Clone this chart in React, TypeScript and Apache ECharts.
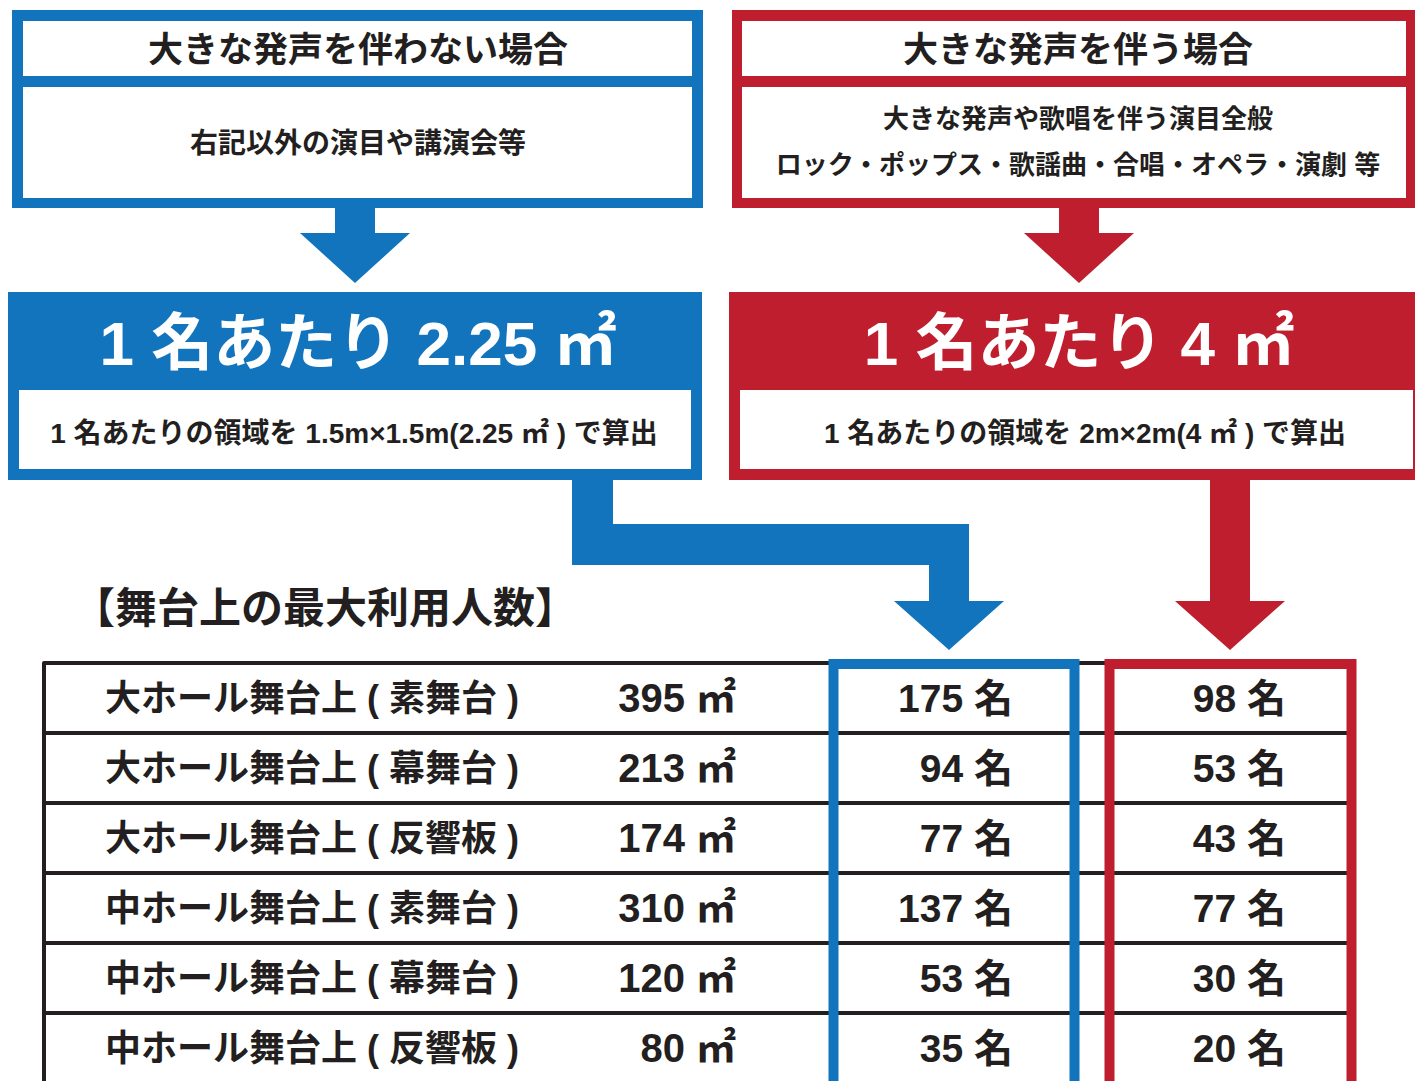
import React, { useEffect, useRef } from "react";
import * as echarts from "echarts";

const rowLabels = [
  "大ホール舞台上 ( 素舞台 )",
  "大ホール舞台上 ( 幕舞台 )",
  "大ホール舞台上 ( 反響板 )",
  "中ホール舞台上 ( 素舞台 )",
  "中ホール舞台上 ( 幕舞台 )",
  "中ホール舞台上 ( 反響板 )",
];
const stageAreas = [395, 213, 174, 310, 120, 80];
const capacityQuiet = [175, 94, 77, 137, 53, 35];
const capacityLoud = [98, 53, 43, 77, 30, 20];

const quietTitle = "大きな発声を伴わない場合";
const quietBody = ["右記以外の演目や講演会等"];
const loudTitle = "大きな発声を伴う場合";
const loudBody = ["大きな発声や歌唱を伴う演目全般", "ロック・ポップス・歌謡曲・合唱・オペラ・演劇 等"];
const quietHeadline = "1 名あたり 2.25 ㎡";
const quietNote = "1 名あたりの領域を 1.5m×1.5m(2.25 ㎡ ) で算出";
const loudHeadline = "1 名あたり 4 ㎡";
const loudNote = "1 名あたりの領域を 2m×2m(4 ㎡ ) で算出";
const sectionTitle = "【舞台上の最大利用人数】";

const BLUE = "#1174BC";
const RED = "#BE1E2D";
const INK = "#231F20";
const FONT = "'Liberation Sans', 'Noto Sans CJK JP', sans-serif";

function txt(text: string, x: number, y: number, size: number, opts: any = {}) {
  return {
    type: "text",
    z: 120,
    style: {
      text,
      x,
      y,
      align: opts.align || "center",
      verticalAlign: "middle",
      fontSize: size,
      fontWeight: opts.weight || "bold",
      fontFamily: FONT,
      fill: opts.fill || INK,
    },
  };
}

function rect(x: number, y: number, w: number, h: number, fill: string, z = 10) {
  return { type: "rect", z, shape: { x, y, width: w, height: h }, style: { fill } };
}

function poly(points: number[][], fill: string) {
  return { type: "polygon", z: 10, shape: { points }, style: { fill } };
}

export default function App() {
  const ref = useRef<HTMLDivElement>(null);
  useEffect(() => {
    if (!ref.current) return;
    const chart = echarts.init(ref.current, undefined, { renderer: "svg" });

    const graphics: any[] = [
      // top quiet box
      rect(12, 10, 691, 198, BLUE),
      rect(23, 21, 669, 55, "#fff", 11),
      rect(23, 87, 669, 111, "#fff", 11),
      txt(quietTitle, 358, 49, 35),
      ...quietBody.map((t, i) => txt(t, 358, 143 + i * 46, 28)),
      // top loud box
      rect(732, 10, 684, 198, RED),
      rect(742, 21, 664, 55, "#fff", 11),
      rect(742, 87, 664, 111, "#fff", 11),
      txt(loudTitle, 1078, 49, 35),
      ...loudBody.map((t, i) => txt(t, 1078, 119 + i * 46, 26)),
      // arrows
      rect(335, 207, 40, 27, BLUE),
      poly([[300, 233], [410, 233], [355, 283]], BLUE),
      rect(1059, 207, 40, 27, RED),
      poly([[1024, 233], [1134, 233], [1079, 283]], RED),
      // headline boxes
      rect(8, 292, 694, 188, BLUE),
      rect(19, 390, 672, 79, "#fff", 11),
      txt(quietHeadline, 358, 343, 62, { fill: "#fff" }),
      txt(quietNote, 354, 433, 28),
      rect(729, 292, 696, 188, RED),
      rect(740, 390, 673, 79, "#fff", 11),
      txt(loudHeadline, 1079, 343, 62, { fill: "#fff" }),
      txt(loudNote, 1085, 433, 28),
      // connectors
      poly(
        [
          [572, 478], [613, 478], [613, 524], [969, 524], [969, 601], [1004, 601],
          [949, 650], [894, 601], [929, 601], [929, 565], [572, 565],
        ],
        BLUE
      ),
      poly(
        [[1210, 478], [1250, 478], [1250, 601], [1285, 601], [1230, 650], [1175, 601], [1210, 601]],
        RED
      ),
      txt(sectionTitle, 73, 608, 42, { align: "left" }),
      // column frames
      {
        type: "rect",
        z: 100,
        shape: { x: 833.5, y: 664, width: 241, height: 440 },
        style: { fill: "none", stroke: BLUE, lineWidth: 10 },
      },
      {
        type: "rect",
        z: 100,
        shape: { x: 1109.5, y: 664, width: 242, height: 440 },
        style: { fill: "none", stroke: RED, lineWidth: 10 },
      },
    ];

    const textStyle = (text: string, x: number, y: number, align: string, size: number, weight: any) => ({
      type: "text",
      style: {
        text,
        x,
        y,
        align,
        verticalAlign: "middle",
        fontSize: size,
        fontWeight: weight,
        fontFamily: FONT,
        fill: INK,
      },
    });

    chart.setOption({
      animation: false,
      backgroundColor: "#fff",
      grid: { left: 44, right: 65, top: 663, height: 420, containLabel: false },
      xAxis: { type: "value", min: 0, max: 1, show: false },
      yAxis: {
        type: "category",
        data: rowLabels,
        inverse: true,
        boundaryGap: true,
        axisLabel: { show: false },
        axisTick: { show: false },
        axisLine: { show: true, lineStyle: { color: INK, width: 4 } },
        splitLine: { show: true, interval: 0, lineStyle: { color: INK, width: 4 } },
      },
      series: [
        {
          type: "custom",
          clip: false,
          z: 50,
          encode: { x: 0, y: 1 },
          data: rowLabels.map((_, i) => [0, i]),
          renderItem: (params: any, api: any) => {
            const i = api.value(1);
            const y = api.coord([0, i])[1];
            return {
              type: "group",
              children: [
                textStyle(rowLabels[i], 105, y, "left", 36, "bold"),
                textStyle(stageAreas[i] + " ㎡", 736, y, "right", 40, "bold"),
                textStyle(capacityQuiet[i] + " 名", 1013, y, "right", 39, "bold"),
                textStyle(capacityLoud[i] + " 名", 1286, y, "right", 39, "bold"),
              ],
            };
          },
        },
      ],
      graphic: graphics,
    });
    return () => chart.dispose();
  }, []);
  return (
    <div
      ref={ref}
      style={{ position: "fixed", left: 0, top: 0, width: 1415, height: 1110, background: "#fff" }}
    />
  );
}
